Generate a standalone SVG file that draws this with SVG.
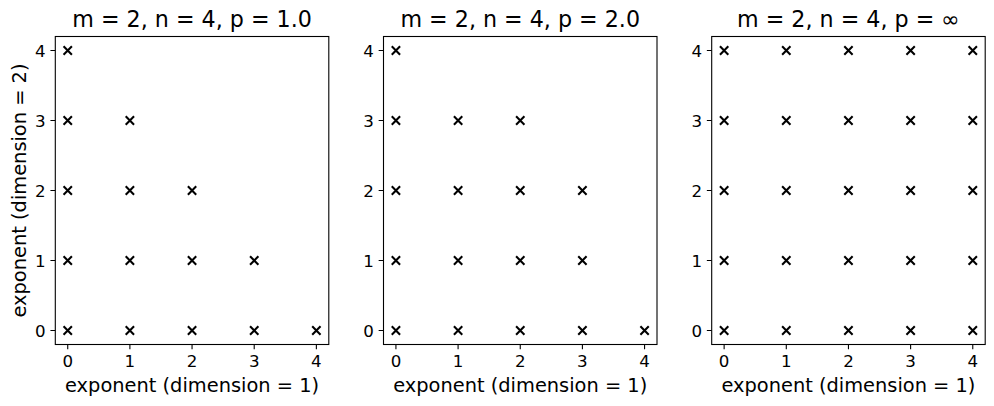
<svg xmlns="http://www.w3.org/2000/svg" xmlns:xlink="http://www.w3.org/1999/xlink" width="994" height="406" viewBox="0 0 994 406">
<style>
text{font-family:"DejaVu Sans","Liberation Sans",sans-serif;fill:#000}
.title{font-size:22.2px;text-anchor:middle}
.lab{font-size:19.4px;text-anchor:middle}
.tx{font-size:16.67px;text-anchor:middle}
.ty{font-size:16.67px;text-anchor:end}
.frame{fill:#fff;stroke:#000;stroke-width:1.1}
.tick{stroke:#000;stroke-width:1.1}
.mk{fill:none;stroke:#000;stroke-width:2.08;stroke-linecap:butt}
</style>
<defs>
<path id="m" class="mk" d="M-4.17,-4.17L4.17,4.17M-4.17,4.17L4.17,-4.17"/>
<g id="yt">
<path class="tick" d="M0,50.5h-4.86M0,120.5h-4.86M0,190.5h-4.86M0,260.5h-4.86M0,330.5h-4.86"/>
<text class="ty" x="-9.7" y="56.5">4</text>
<text class="ty" x="-9.7" y="126.5">3</text>
<text class="ty" x="-9.7" y="196.5">2</text>
<text class="ty" x="-9.7" y="266.5">1</text>
<text class="ty" x="-9.7" y="336.5">0</text>
</g>
<g id="xt">
<path class="tick" d="M12.43,344.5v4.86M74.59,344.5v4.86M136.75,344.5v4.86M198.91,344.5v4.86M261.07,344.5v4.86"/>
<text class="tx" x="12.43" y="367">0</text>
<text class="tx" x="74.59" y="367">1</text>
<text class="tx" x="136.75" y="367">2</text>
<text class="tx" x="198.91" y="367">3</text>
<text class="tx" x="261.07" y="367">4</text>
<text class="lab" x="136.75" y="391.5">exponent (dimension = 1)</text>
</g>
</defs>
<rect width="994" height="406" fill="#fff"/>

<g id="ax1" transform="translate(55.3,0)">
<rect class="frame" x="0" y="36.5" width="273.5" height="308"/>
<use xlink:href="#yt"/><use xlink:href="#xt"/>
<text class="title" x="136.75" y="26.5">m = 2, n = 4, p = 1.0</text>
<g>
<use xlink:href="#m" x="12.43" y="50.5"/><use xlink:href="#m" x="12.43" y="120.5"/><use xlink:href="#m" x="12.43" y="190.5"/><use xlink:href="#m" x="12.43" y="260.5"/><use xlink:href="#m" x="12.43" y="330.5"/>
<use xlink:href="#m" x="74.59" y="120.5"/><use xlink:href="#m" x="74.59" y="190.5"/><use xlink:href="#m" x="74.59" y="260.5"/><use xlink:href="#m" x="74.59" y="330.5"/>
<use xlink:href="#m" x="136.75" y="190.5"/><use xlink:href="#m" x="136.75" y="260.5"/><use xlink:href="#m" x="136.75" y="330.5"/>
<use xlink:href="#m" x="198.91" y="260.5"/><use xlink:href="#m" x="198.91" y="330.5"/>
<use xlink:href="#m" x="261.07" y="330.5"/>
</g>
</g>
<text class="lab" transform="translate(26,190.5) rotate(-90)">exponent (dimension = 2)</text>

<g id="ax2" transform="translate(383.5,0)">
<rect class="frame" x="0" y="36.5" width="273.5" height="308"/>
<use xlink:href="#yt"/><use xlink:href="#xt"/>
<text class="title" x="136.75" y="26.5">m = 2, n = 4, p = 2.0</text>
<g>
<use xlink:href="#m" x="12.43" y="50.5"/><use xlink:href="#m" x="12.43" y="120.5"/><use xlink:href="#m" x="12.43" y="190.5"/><use xlink:href="#m" x="12.43" y="260.5"/><use xlink:href="#m" x="12.43" y="330.5"/>
<use xlink:href="#m" x="74.59" y="120.5"/><use xlink:href="#m" x="74.59" y="190.5"/><use xlink:href="#m" x="74.59" y="260.5"/><use xlink:href="#m" x="74.59" y="330.5"/>
<use xlink:href="#m" x="136.75" y="120.5"/><use xlink:href="#m" x="136.75" y="190.5"/><use xlink:href="#m" x="136.75" y="260.5"/><use xlink:href="#m" x="136.75" y="330.5"/>
<use xlink:href="#m" x="198.91" y="190.5"/><use xlink:href="#m" x="198.91" y="260.5"/><use xlink:href="#m" x="198.91" y="330.5"/>
<use xlink:href="#m" x="261.07" y="330.5"/>
</g>
</g>

<g id="ax3" transform="translate(711.7,0)">
<rect class="frame" x="0" y="36.5" width="273.5" height="308"/>
<use xlink:href="#yt"/><use xlink:href="#xt"/>
<text class="title" x="136.75" y="26.5">m = 2, n = 4, p = ∞</text>
<g>
<use xlink:href="#m" x="12.43" y="50.5"/><use xlink:href="#m" x="12.43" y="120.5"/><use xlink:href="#m" x="12.43" y="190.5"/><use xlink:href="#m" x="12.43" y="260.5"/><use xlink:href="#m" x="12.43" y="330.5"/>
<use xlink:href="#m" x="74.59" y="50.5"/><use xlink:href="#m" x="74.59" y="120.5"/><use xlink:href="#m" x="74.59" y="190.5"/><use xlink:href="#m" x="74.59" y="260.5"/><use xlink:href="#m" x="74.59" y="330.5"/>
<use xlink:href="#m" x="136.75" y="50.5"/><use xlink:href="#m" x="136.75" y="120.5"/><use xlink:href="#m" x="136.75" y="190.5"/><use xlink:href="#m" x="136.75" y="260.5"/><use xlink:href="#m" x="136.75" y="330.5"/>
<use xlink:href="#m" x="198.91" y="50.5"/><use xlink:href="#m" x="198.91" y="120.5"/><use xlink:href="#m" x="198.91" y="190.5"/><use xlink:href="#m" x="198.91" y="260.5"/><use xlink:href="#m" x="198.91" y="330.5"/>
<use xlink:href="#m" x="261.07" y="50.5"/><use xlink:href="#m" x="261.07" y="120.5"/><use xlink:href="#m" x="261.07" y="190.5"/><use xlink:href="#m" x="261.07" y="260.5"/><use xlink:href="#m" x="261.07" y="330.5"/>
</g>
</g>
<g id="connectors"/>
</svg>
